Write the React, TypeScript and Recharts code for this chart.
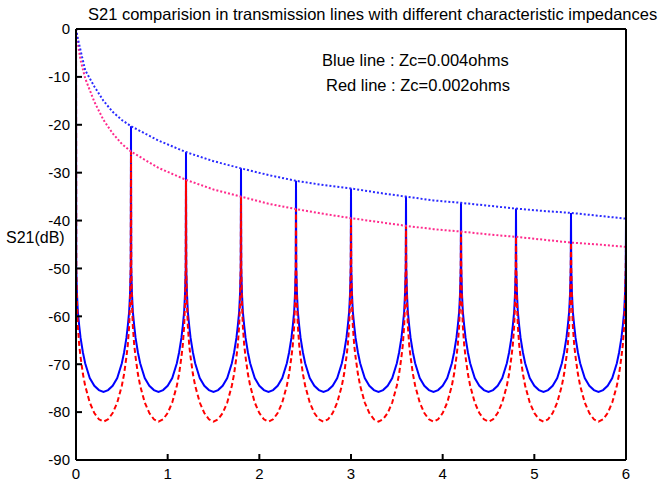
import { LineChart, Line, XAxis, YAxis } from "recharts";

// resonance peaks sit at multiples of 0.6
const PEAK_X = [0, 0.6, 1.2, 1.8, 2.4, 3.0, 3.6, 4.2, 4.8, 5.4, 6.0];
const BLUE_PEAKS = [0, -20.3, -25.7, -29.1, -31.7, -33.3, -35.0, -36.3, -37.5, -38.4, -39.6];
const RED_PEAKS = [0, -25.6, -31.5, -35.0, -37.6, -39.5, -41.1, -42.3, -43.4, -44.6, -45.5];

// shape between two peaks (offset from the previous peak), read from one period
const OFFSETS = [0.003, 0.01, 0.02, 0.035, 0.05, 0.075, 0.1, 0.15, 0.2, 0.25, 0.3, 0.35, 0.4, 0.45, 0.5, 0.525, 0.55, 0.565, 0.58, 0.59, 0.597];
const BLUE_VALLEY = [-50, -55, -59, -62, -64.5, -67.5, -69.8, -72.9, -74.5, -75.4, -75.8, -75.4, -74.5, -72.9, -69.8, -67.5, -64.5, -62, -59, -55, -50];
const RED_VALLEY = [-50, -57, -62, -66, -68.5, -72, -74.5, -78, -80.2, -81.5, -82, -81.5, -80.2, -78, -74.5, -72, -68.5, -66, -62, -57, -50];

// dotted envelopes through the peaks
const ENV_X = [0, 0.02, 0.05, 0.1, 0.2, 0.3, 0.4, 0.5, 0.6, 0.9, 1.2, 1.5, 1.8, 2.1, 2.4, 2.7, 3.0, 3.3, 3.6, 3.9, 4.2, 4.5, 4.8, 5.1, 5.4, 5.7, 6.0];
const BLUE_ENV = [0, -2, -4.5, -8.6, -12, -15, -17.3, -19, -20.3, -23.3, -25.7, -27.6, -29.1, -30.5, -31.7, -32.6, -33.3, -34.2, -35.0, -35.8, -36.3, -36.9, -37.5, -38, -38.4, -39, -39.6];
const RED_ENV = [0, -3, -6.5, -10.3, -15.2, -19, -21.8, -24, -25.6, -29, -31.5, -33.5, -35.0, -36.5, -37.6, -38.6, -39.5, -40.3, -41.1, -41.8, -42.3, -42.9, -43.4, -44, -44.6, -45, -45.5];

const X_TICKS = [0, 1, 2, 3, 4, 5, 6];
const Y_TICKS = [0, -10, -20, -30, -40, -50, -60, -70, -80, -90];

const TITLE = "S21 comparision in transmission lines with different characteristic impedances";
const NOTE_BLUE = "Blue line : Zc=0.004ohms";
const NOTE_RED = "Red line : Zc=0.002ohms";

function resonance(peaks: number[], valley: number[]) {
  const pts: { x: number; y: number }[] = [];
  peaks.forEach((p, i) => {
    pts.push({ x: PEAK_X[i], y: p });
    if (i < peaks.length - 1) {
      OFFSETS.forEach((d, j) => pts.push({ x: PEAK_X[i] + d, y: valley[j] }));
    }
  });
  return pts;
}

const blueData = resonance(BLUE_PEAKS, BLUE_VALLEY);
const redData = resonance(RED_PEAKS, RED_VALLEY);
const blueEnv = ENV_X.map((x, i) => ({ x, y: BLUE_ENV[i] }));
const redEnv = ENV_X.map((x, i) => ({ x, y: RED_ENV[i] }));

const FONT = "'Liberation Sans', Arial, sans-serif";
const tickStyle = { fontSize: 15, fill: "#000", fontFamily: FONT };
const axisLine = { stroke: "#000", strokeWidth: 2 };
const tickLine = { stroke: "#000", strokeWidth: 2 };
const textBox = { position: "absolute" as const, whiteSpace: "nowrap" as const, lineHeight: 1, color: "#000" };

export default function App() {
  return (
    <div style={{ position: "absolute", left: 0, top: 0, width: 659, height: 482, background: "#fff", fontFamily: FONT }}>
      <LineChart width={659} height={482} margin={{ top: 0, right: 0, bottom: 0, left: 0 }}>
        <XAxis
          dataKey="x"
          type="number"
          domain={[0, 6]}
          ticks={X_TICKS}
          height={22}
          tickSize={-6}
          tickMargin={14}
          axisLine={axisLine}
          tickLine={tickLine}
          tick={tickStyle}
          allowDataOverflow
        />
        <XAxis
          xAxisId="top"
          dataKey="x"
          type="number"
          orientation="top"
          domain={[0, 6]}
          ticks={X_TICKS}
          height={29}
          tickSize={-6}
          axisLine={axisLine}
          tickLine={tickLine}
          tick={false}
        />
        <YAxis
          type="number"
          domain={[-90, 0]}
          ticks={Y_TICKS}
          width={76}
          tickSize={-6}
          tickMargin={12}
          axisLine={axisLine}
          tickLine={tickLine}
          tick={tickStyle}
          allowDataOverflow
        />
        <YAxis
          yAxisId="right"
          type="number"
          orientation="right"
          domain={[-90, 0]}
          ticks={Y_TICKS}
          width={33}
          tickSize={-6}
          axisLine={axisLine}
          tickLine={tickLine}
          tick={false}
        />
        <Line data={blueData} dataKey="y" type="linear" stroke="#0000ff" strokeWidth={2} dot={false} isAnimationActive={false} />
        <Line data={redData} dataKey="y" type="linear" stroke="#ff0000" strokeWidth={2} strokeDasharray="5 3" dot={false} isAnimationActive={false} />
        <Line data={redEnv} dataKey="y" type="linear" stroke="#ff2a8c" strokeWidth={2} strokeDasharray="2 2" dot={false} isAnimationActive={false} />
        <Line data={blueEnv} dataKey="y" type="linear" stroke="#2a2aff" strokeWidth={2} strokeDasharray="2 2" dot={false} isAnimationActive={false} />
      </LineChart>
      <div style={{ ...textBox, left: 88, top: 6, fontSize: 16.5 }}>{TITLE}</div>
      <div style={{ ...textBox, left: 322, top: 52, fontSize: 16.5 }}>{NOTE_BLUE}</div>
      <div style={{ ...textBox, left: 326, top: 77, fontSize: 16.5 }}>{NOTE_RED}</div>
      <div style={{ ...textBox, left: 6, top: 230, fontSize: 16 }}>S21(dB)</div>
    </div>
  );
}
